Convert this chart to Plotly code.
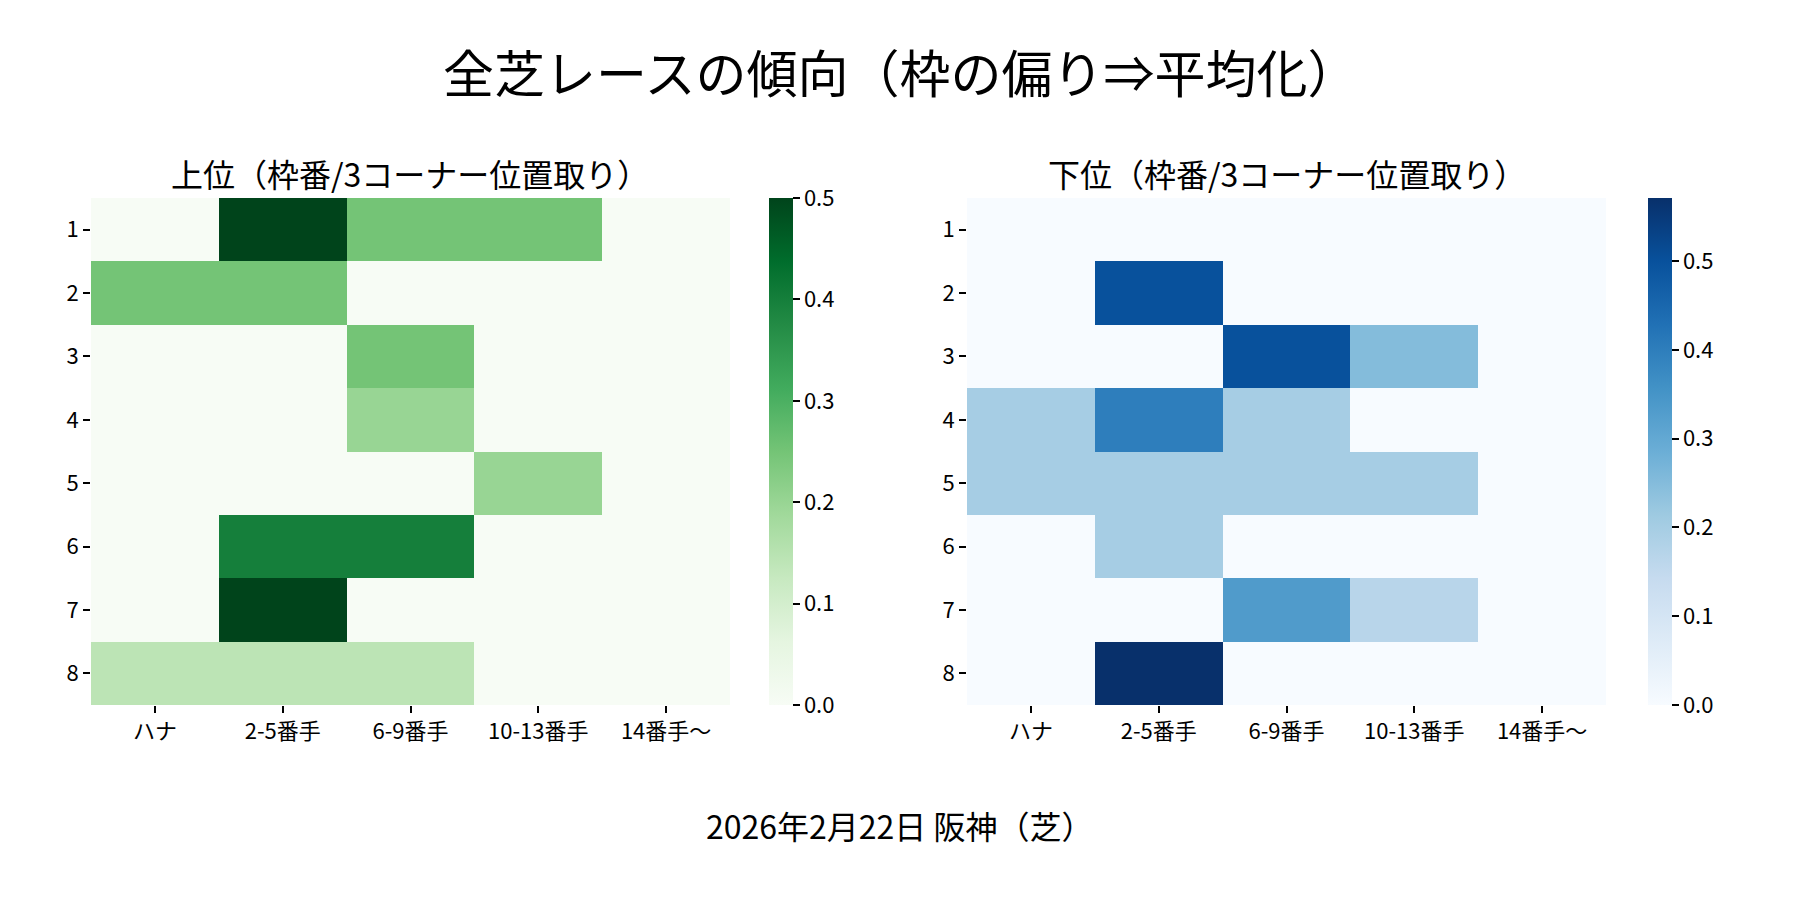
import plotly.graph_objects as go

# ---- data ----
positions = ["ハナ", "2-5番手", "6-9番手", "10-13番手", "14番手〜"]
gates = ["1", "2", "3", "4", "5", "6", "7", "8"]

upper_vals = [
    [0.0, 0.5, 0.25, 0.25, 0.0],
    [0.25, 0.25, 0.0, 0.0, 0.0],
    [0.0, 0.0, 0.25, 0.0, 0.0],
    [0.0, 0.0, 0.2, 0.0, 0.0],
    [0.0, 0.0, 0.0, 0.2, 0.0],
    [0.0, 0.4, 0.4, 0.0, 0.0],
    [0.0, 0.5, 0.0, 0.0, 0.0],
    [0.143, 0.143, 0.143, 0.0, 0.0],
]
lower_vals = [
    [0.0, 0.0, 0.0, 0.0, 0.0],
    [0.0, 0.5, 0.0, 0.0, 0.0],
    [0.0, 0.0, 0.5, 0.25, 0.0],
    [0.2, 0.4, 0.2, 0.0, 0.0],
    [0.2, 0.2, 0.2, 0.2, 0.0],
    [0.0, 0.2, 0.0, 0.0, 0.0],
    [0.0, 0.0, 0.333, 0.167, 0.0],
    [0.0, 0.571, 0.0, 0.0, 0.0],
]
cbar_ticks = [0.0, 0.1, 0.2, 0.3, 0.4, 0.5]

main_title = "全芝レースの傾向（枠の偏り⇒平均化）"
left_title = "上位（枠番/3コーナー位置取り）"
right_title = "下位（枠番/3コーナー位置取り）"
caption = "2026年2月22日 阪神（芝）"

# ---- styles ----
greens = ['#f7fcf5', '#e5f5e0', '#c7e9c0', '#a1d99b', '#74c476',
          '#41ab5d', '#238b45', '#006d2c', '#00441b']
blues = ['#f7fbff', '#deebf7', '#c6dbef', '#9ecae1', '#6baed6',
         '#4292c6', '#2171b5', '#08519c', '#08306b']


def scale(cols):
    n = len(cols) - 1
    return [[i / n, c] for i, c in enumerate(cols)]


FONT = "Noto Sans CJK JP"
W, H = 1800, 900
OFF = 8  # page body margin
y_top, y_bot = 198 - OFF, 705 - OFF
ydom = [1 - y_bot / H, 1 - y_top / H]
lx = [(91 - OFF) / W, (730 - OFF) / W]
rx = [(967 - OFF) / W, (1606 - OFF) / W]


def cbar(xpx):
    return dict(
        x=(xpx - OFF) / W, xanchor="left", xref="paper", xpad=0, ypad=0,
        y=(ydom[0] + ydom[1]) / 2, yanchor="middle", yref="paper",
        len=ydom[1] - ydom[0], lenmode="fraction",
        thickness=24, thicknessmode="pixels",
        outlinewidth=0, ticks="outside", ticklen=7, tickwidth=1.5,
        tickcolor="black", tickvals=cbar_ticks, tickformat=".1f",
        tickfont=dict(family=FONT, size=22, color="black"),
    )


fig = go.Figure()
fig.add_trace(go.Heatmap(
    z=upper_vals, x=positions, y=gates,
    colorscale=scale(greens), zmin=0, zmax=max(max(r) for r in upper_vals),
    colorbar=cbar(769), xaxis="x", yaxis="y", hoverinfo="skip",
))
fig.add_trace(go.Heatmap(
    z=lower_vals, x=positions, y=gates,
    colorscale=scale(blues), zmin=0, zmax=max(max(r) for r in lower_vals),
    colorbar=cbar(1648), xaxis="x2", yaxis="y2", hoverinfo="skip",
))

axis_common = dict(
    showgrid=False, zeroline=False, showline=False, automargin=False,
    ticks="outside", ticklen=7, tickwidth=1.5, tickcolor="black",
    tickfont=dict(family=FONT, size=22, color="black"),
)

fig.update_layout(
    width=W, height=H, autosize=False,
    margin=dict(l=0, r=0, t=0, b=0),
    paper_bgcolor="white", plot_bgcolor="white",
    font=dict(family=FONT, color="black"),
    xaxis=dict(domain=lx, anchor="y", type="category", **axis_common),
    yaxis=dict(domain=ydom, anchor="x", type="category",
               autorange="reversed", **axis_common),
    xaxis2=dict(domain=rx, anchor="y2", type="category", **axis_common),
    yaxis2=dict(domain=ydom, anchor="x2", type="category",
                autorange="reversed", **axis_common),
    annotations=[
        dict(text=main_title, x=0.5 - OFF / W, y=1 - (75 - OFF - 4) / H,
             xref="paper", yref="paper",
             xanchor="center", yanchor="middle", showarrow=False,
             font=dict(family=FONT, size=51, color="black")),
        dict(text=left_title, x=(lx[0] + lx[1]) / 2, y=1 - (173 - OFF) / H,
             xref="paper", yref="paper", xanchor="center", yanchor="middle",
             showarrow=False, font=dict(family=FONT, size=32, color="black")),
        dict(text=right_title, x=(rx[0] + rx[1]) / 2, y=1 - (173 - OFF) / H,
             xref="paper", yref="paper", xanchor="center", yanchor="middle",
             showarrow=False, font=dict(family=FONT, size=32, color="black")),
        dict(text=caption, x=0.5 - OFF / W, y=1 - (831 - OFF - 6) / H,
             xref="paper", yref="paper",
             xanchor="center", yanchor="middle", showarrow=False,
             font=dict(family=FONT, size=32, color="black")),
    ],
)

fig.write_html("out.html")
